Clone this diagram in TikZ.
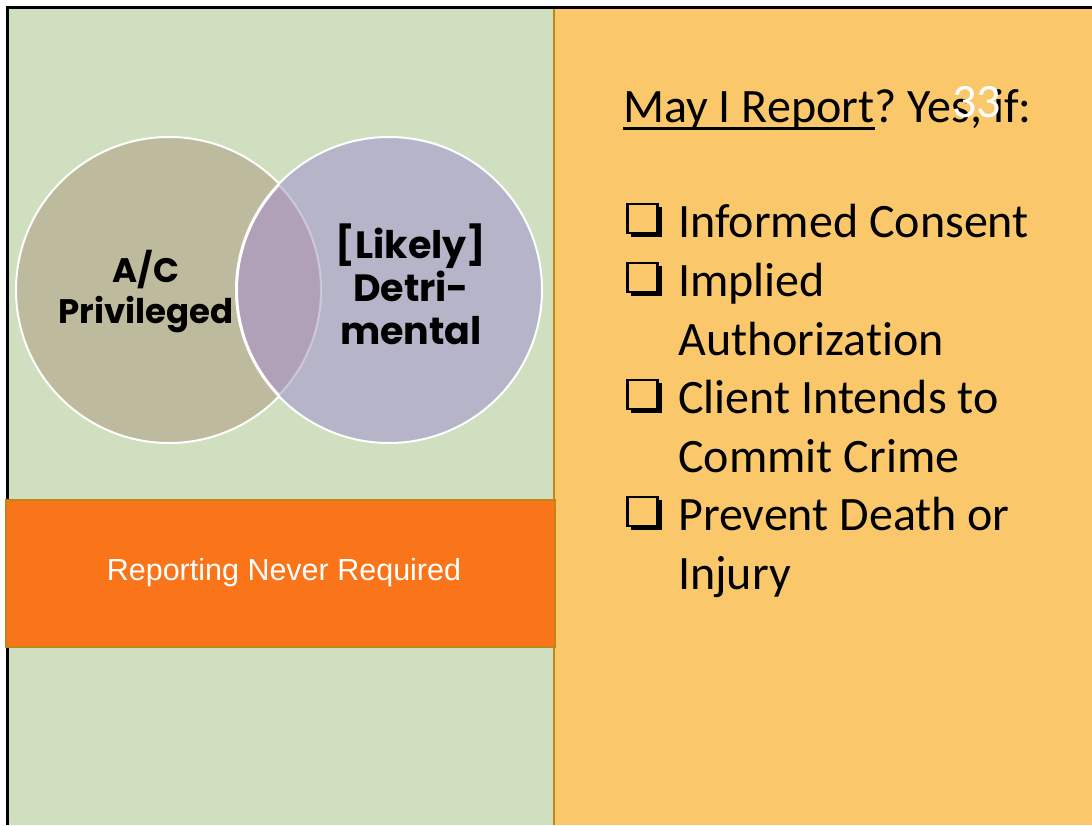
\documentclass[tikz,border=0pt]{standalone}
\usepackage{fontspec}
\setmainfont{Carlito}[Ligatures=NoCommon]
\newfontfamily\arialf{Liberation Sans}
\newfontfamily\gothic{Poppins}
\frenchspacing
\definecolor{greenbg}{RGB}{207,223,191}
\definecolor{orangebg}{RGB}{250,200,106}
\definecolor{bandfill}{RGB}{250,116,25}
\definecolor{brownline}{RGB}{190,135,20}
\definecolor{leftc}{RGB}{190,186,158}
\definecolor{rightc}{RGB}{182,180,200}
\definecolor{lensc}{RGB}{176,160,184}
\tikzset{
  vcircle/.style={circle, draw=white, line width=2pt, minimum size=306pt, inner sep=0pt},
  listtext/.style={anchor=base west, inner sep=0pt, font=\fontsize{48}{56}\selectfont},
  ctext/.style={align=center, inner sep=0pt, text=black},
}
\newcommand{\chkbox}[1]{%
  \fill[black] (631,#1-30) rectangle (662,#1);
  \filldraw[fill=orangebg, draw=black, line width=2.8pt] (627.5,#1-33) rectangle (657.5,#1-4);
}
\begin{document}
\begin{tikzpicture}[x=1pt,y=-1pt]
\useasboundingbox (0,0) rectangle (1092,825);
\fill[white] (0,0) rectangle (1092,825);
% panels
\fill[greenbg] (7,8) rectangle (554,825);
\fill[orangebg] (554,8) rectangle (1092,825);
\draw[brownline, line width=2pt] (554,8) -- (554,825);
\draw[black, line width=3pt] (5.5,7.5) -- (1092,7.5);
\draw[black, line width=3pt] (7,6) -- (7,825);
% orange band
\node[draw=brownline, fill=bandfill, line width=1.5pt, minimum width=549pt, minimum height=147pt, inner sep=0pt, anchor=north west] (band) at (5,499) {};
\node[inner sep=0pt, text=white, font=\arialf\fontsize{30.5}{34}\selectfont, anchor=base] (bandtxt) at (284,580) {Reporting Never Required};
% circles
\node[vcircle, fill=leftc] (lc) at (169,290) {};
\node[vcircle, fill=rightc] (rc) at (389,290) {};
\begin{scope}
  \clip (169,290) circle (152pt);
  \fill[lensc] (389,290) circle (152pt);
  \draw[white, line width=2pt] (389,290) circle (152pt);
\end{scope}
\begin{scope}
  \clip (389,290) circle (152pt);
  \draw[white, opacity=0.35, line width=2pt] (169,290) circle (152pt);
\end{scope}
\node[ctext, font=\gothic\bfseries\fontsize{34}{41}\selectfont, anchor=base] (lt1) at (146,282) {A/C};
\node[ctext, font=\gothic\bfseries\fontsize{34}{41}\selectfont, anchor=base] (lt2) at (146,323) {Privileged};
\node[ctext, font=\gothic\bfseries\fontsize{38}{45}\selectfont, anchor=base] (rt1) at (411,258) {[Likely]};
\node[ctext, font=\gothic\bfseries\fontsize{38}{45}\selectfont, anchor=base] (rt2) at (411,301) {Detri-};
\node[ctext, font=\gothic\bfseries\fontsize{38}{45}\selectfont, anchor=base] (rt3) at (411,344) {mental};
% right text
\node[listtext] (title) at (623,122) {May I Report};
\draw[black, line width=3pt] ([yshift=-6pt]title.base west) -- ([yshift=-6pt]title.base east);
\node[listtext] (title2) at (title.base east) {? Yes, if:};
\node[listtext, text=white] (pnum) at (952,117) {33};
\chkbox{237}
\node[listtext] (i1) at (678,237) {Informed Consent};
\chkbox{296}
\node[listtext] (i2) at (678,296) {Implied};
\node[listtext] (i2b) at (678,355) {Authorization};
\chkbox{413}
\node[listtext] (i3) at (678,413) {Client Intends to};
\node[listtext] (i3b) at (678,472) {Commit Crime};
\chkbox{530}
\node[listtext] (i4) at (678,530) {Prevent Death or};
\node[listtext] (i4b) at (678,589) {Injury};
\end{tikzpicture}
\end{document}
